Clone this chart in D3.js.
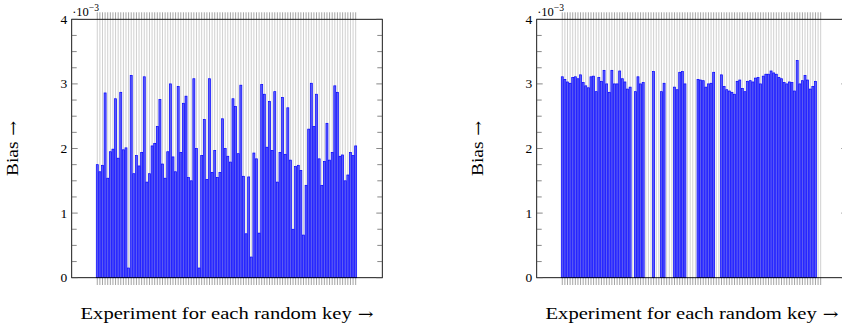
<!DOCTYPE html>
<html>
<head>
<meta charset="utf-8">
<script src="https://cdn.jsdelivr.net/npm/d3@7"></script>
<style>
  body { margin: 0; background: #fff; }
  text { font-family: "Liberation Serif", "DejaVu Serif", serif; fill: #000; }
</style>
</head>
<body>
<script>
// experiment index (one bar per random key)
const experiments = d3.range(1, 101);

// bias values in units of 1e-3
const biasLeft = [
  1.75, 1.64, 1.74, 2.86, 1.54, 1.95, 1.99, 2.77, 1.85, 2.87,
  1.98, 2.01, 0.15, 3.13, 1.61, 1.89, 1.73, 1.94, 3.11, 1.48,
  1.61, 2.04, 2.08, 2.34, 2.76, 1.76, 1.54, 1.95, 3.00, 1.87,
  1.64, 2.96, 1.94, 2.70, 2.81, 1.55, 1.50, 3.08, 2.00, 0.15,
  1.89, 2.45, 1.52, 3.08, 1.63, 1.97, 1.55, 1.63, 2.46, 2.00,
  1.88, 1.79, 2.77, 2.65, 1.92, 2.98, 1.57, 0.68, 1.56, 0.32,
  1.93, 1.84, 0.69, 2.99, 2.84, 2.02, 2.73, 1.97, 2.88, 1.48,
  1.94, 2.79, 1.91, 2.63, 1.82, 0.75, 1.72, 1.74, 1.66, 0.66,
  1.43, 2.30, 3.01, 2.34, 2.84, 1.84, 1.43, 1.80, 2.39, 1.82,
  1.94, 2.97, 2.87, 1.88, 1.90, 1.50, 1.59, 1.94, 1.89, 2.04
];
// zero = no bar drawn for that experiment
const biasRight = [
  3.11, 3.07, 3.03, 3.01, 3.10, 3.11, 3.08, 3.14, 3.02, 2.97,
  2.94, 3.11, 3.12, 2.88, 3.10, 3.04, 3.21, 3.00, 2.87, 3.21,
  3.00, 3.00, 3.20, 3.08, 3.03, 2.92, 2.95, 0, 2.88, 3.11,
  3.00, 3.02, 0, 0, 0, 3.19, 0, 0, 2.88, 3.01,
  0, 0, 0, 2.95, 2.91, 3.18, 3.19, 3.00, 0, 0,
  0, 0, 3.07, 3.06, 3.05, 2.95, 3.00, 3.01, 3.18, 0,
  0, 3.14, 2.96, 2.91, 2.89, 2.87, 2.84, 3.04, 3.06, 2.93,
  2.88, 3.04, 3.05, 3.03, 3.09, 3.10, 3.00, 3.12, 3.15, 3.15,
  3.20, 3.17, 3.15, 3.10, 3.08, 3.02, 3.00, 3.03, 3.02, 2.89,
  3.36, 3.00, 3.05, 3.13, 3.06, 2.92, 2.96, 3.04, 0, 0
];

const yTicks = [0, 1, 2, 3, 4];
const yMinorTicks = d3.range(0, 4.001, 0.25);
const yLabel = "Bias";
const xLabel = "Experiment for each random key";
const arrow = " \u2192";

const width = 842, height = 331;
const panelW = 310.6;
const plotTop = 19.3, plotBottom = 277.7;

const svg = d3.select("body").append("svg")
  .attr("width", width)
  .attr("height", height)
  .attr("xmlns", "http://www.w3.org/2000/svg");

const y = d3.scaleLinear().domain([0, 4]).range([plotBottom, plotTop]);

function panel(left, data) {
  const x = d3.scaleLinear().domain([-8.8, 110.2]).range([left, left + panelW]);
  const g = svg.append("g");

  // x grid lines at every experiment
  g.append("g").selectAll("line").data(experiments).join("line")
    .attr("x1", d => x(d)).attr("x2", d => x(d))
    .attr("y1", plotTop).attr("y2", plotBottom)
    .attr("stroke", "#d0d0d0").attr("stroke-width", 1);

  // outside tick marks on top and bottom
  for (const [y1, y2] of [[plotTop - 7, plotTop], [plotBottom, plotBottom + 7.3]]) {
    g.append("g").selectAll("line").data(experiments).join("line")
      .attr("x1", d => x(d)).attr("x2", d => x(d))
      .attr("y1", y1).attr("y2", y2)
      .attr("stroke", "#a4a4a4").attr("stroke-width", 1);
  }

  // bars
  const bw = 2.0;
  g.append("g").selectAll("rect").data(experiments.filter((d, i) => data[i] > 0)).join("rect")
    .attr("x", d => x(d) - bw / 2)
    .attr("y", d => y(data[d - 1]))
    .attr("width", bw)
    .attr("height", d => y(0) - y(data[d - 1]))
    .attr("fill", "rgba(40,40,255,0.7)")
    .attr("stroke", "#0000ff")
    .attr("stroke-width", 0.7);

  // frame
  g.append("rect")
    .attr("x", left).attr("y", plotTop)
    .attr("width", panelW).attr("height", plotBottom - plotTop)
    .attr("fill", "none").attr("stroke", "#000").attr("stroke-width", 0.9);

  // y ticks, inward on both sides
  for (const side of [0, 1]) {
    const xe = side ? left + panelW : left;
    const dir = side ? -1 : 1;
    g.append("g").selectAll("line").data(yMinorTicks).join("line")
      .attr("x1", xe).attr("x2", d => xe + dir * (Number.isInteger(d) ? 6 : 5))
      .attr("y1", d => y(d)).attr("y2", d => y(d))
      .attr("stroke", "#555").attr("stroke-width", 0.7);
  }

  // y tick labels
  g.append("g").selectAll("text").data(yTicks).join("text")
    .attr("x", left - 4.5)
    .attr("y", d => y(d) + 4.5)
    .attr("text-anchor", "end")
    .attr("font-size", 13.5)
    .text(d => d);

  // scale factor
  const sf = g.append("text")
    .attr("x", left + 0.5).attr("y", 15.5)
    .attr("font-size", 12.5);
  sf.append("tspan").text("\u00b710");
  sf.append("tspan").attr("dy", -5).attr("font-size", 9.5).text("\u22123");

  // axis labels
  const yl = g.append("text")
    .attr("transform", `translate(${left - 54},${(plotTop + plotBottom) / 2}) rotate(-90)`)
    .attr("text-anchor", "middle")
    .attr("font-size", 16.5)
    .attr("textLength", 55)
    .attr("lengthAdjust", "spacingAndGlyphs");
  yl.append("tspan").text(yLabel);
  yl.append("tspan").style("font-family", "'DejaVu Serif'").attr("font-size", 15).text(arrow);

  const xl = g.append("text")
    .attr("x", left + panelW / 2).attr("y", 318.5)
    .attr("text-anchor", "middle")
    .attr("font-size", 16.5)
    .attr("textLength", 293)
    .attr("lengthAdjust", "spacingAndGlyphs");
  xl.append("tspan").text(xLabel);
  xl.append("tspan").style("font-family", "'DejaVu Serif'").attr("font-size", 15).text(arrow);
}

panel(71.7, biasLeft);
panel(536.7, biasRight);
</script>
</body>
</html>
